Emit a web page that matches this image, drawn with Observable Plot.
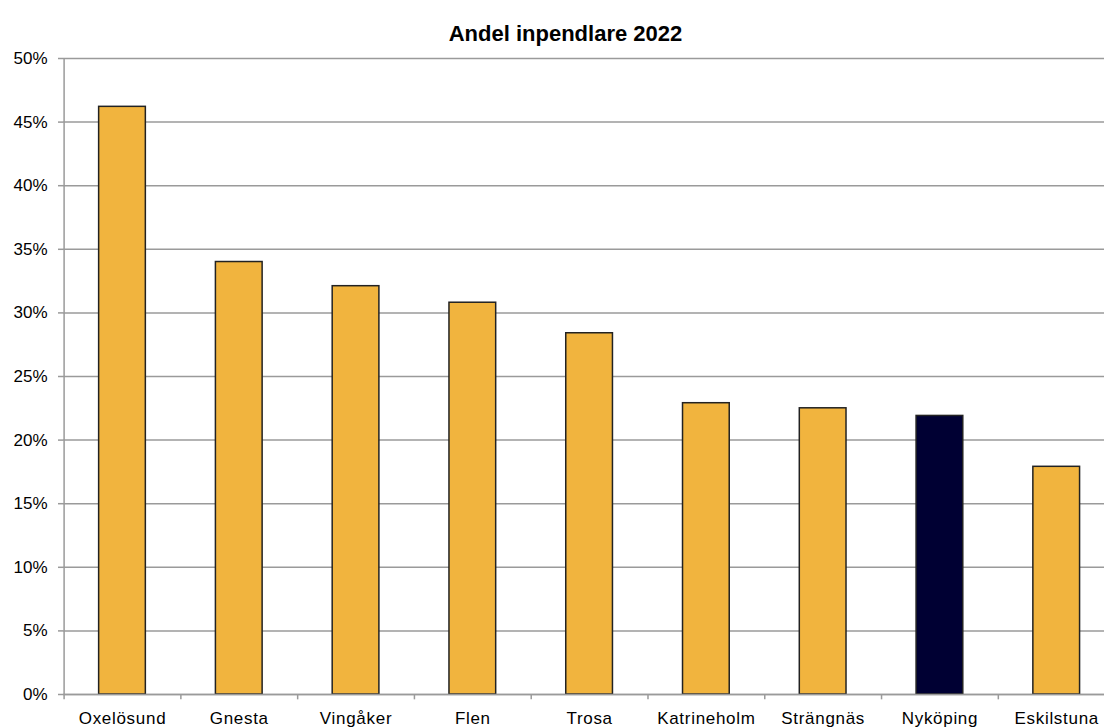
<!DOCTYPE html>
<html>
<head>
<meta charset="utf-8">
<script src="https://cdn.jsdelivr.net/npm/d3@7"></script>
<script src="https://cdn.jsdelivr.net/npm/@observablehq/plot@0.6"></script>
<style>
  html, body { margin: 0; padding: 0; background: white; overflow: hidden; }
  #chart svg { display: block; overflow: hidden; }
  #chart g[aria-label="x-axis tick label"] text { letter-spacing: 0.7px; }
</style>
</head>
<body>
<div id="chart"></div>
<script>
const title = "Andel inpendlare 2022";
const categories = ["Oxelösund", "Gnesta", "Vingåker", "Flen", "Trosa", "Katrineholm", "Strängnäs", "Nyköping", "Eskilstuna"];
const values = [46.2, 34.0, 32.1, 30.8, 28.4, 22.9, 22.5, 21.9, 17.9];
const highlight = ["Nyköping"];
const yTicks = [0, 5, 10, 15, 20, 25, 30, 35, 40, 45, 50];

const data = categories.map((c, i) => ({category: c, value: values[i]}));

const W = 1104, H = 727;
const xRange = [63.6, 1114.6];
const step = (xRange[1] - xRange[0]) / categories.length;
const font = "'Liberation Sans', Arial, sans-serif";
const gray = "#9a9a9a";

const plot = Plot.plot({
  width: W,
  height: H,
  marginLeft: 63,
  marginRight: 0,
  marginTop: 58,
  marginBottom: 33,
  style: {fontFamily: font, fontSize: "17px", color: "#000", background: "white"},
  x: {domain: categories, range: xRange, paddingInner: 0.6, paddingOuter: 0.3, align: 0.5, round: false, label: null},
  y: {domain: [0, 50], label: null},
  marks: [
    Plot.gridY(yTicks, {stroke: gray, strokeOpacity: 1, strokeWidth: 1.5}),
    Plot.ruleX([categories[0]], {dx: -step / 2, y1: 0, y2: 50, stroke: gray, strokeWidth: 1.5}),
    Plot.ruleX(categories, {dx: -step / 2, y1: 0, y2: -0.42, stroke: gray, strokeWidth: 1.5}),
    Plot.barY(data, {
      x: "category",
      y: "value",
      fill: d => highlight.includes(d.category) ? "#000033" : "#F1B43E",
      stroke: "#222",
      strokeWidth: 1.5
    }),
    Plot.ruleY([0], {stroke: gray, strokeWidth: 1.5}),
    Plot.axisY(yTicks, {
      tickSize: 5, tickPadding: 11, stroke: gray, strokeWidth: 1.5,
      tickFormat: d => d + "%", fontSize: 17, fill: "#000"
    }),
    Plot.axisX({
      tickSize: 0, tickPadding: 17, fontSize: 17, fill: "#000"
    }),
    Plot.text([title], {
      frameAnchor: "top", dy: -33, dx: -18.5,
      fontSize: 22, fontWeight: "bold", fill: "#000"
    })
  ]
});

document.getElementById("chart").appendChild(plot);
</script>
</body>
</html>
